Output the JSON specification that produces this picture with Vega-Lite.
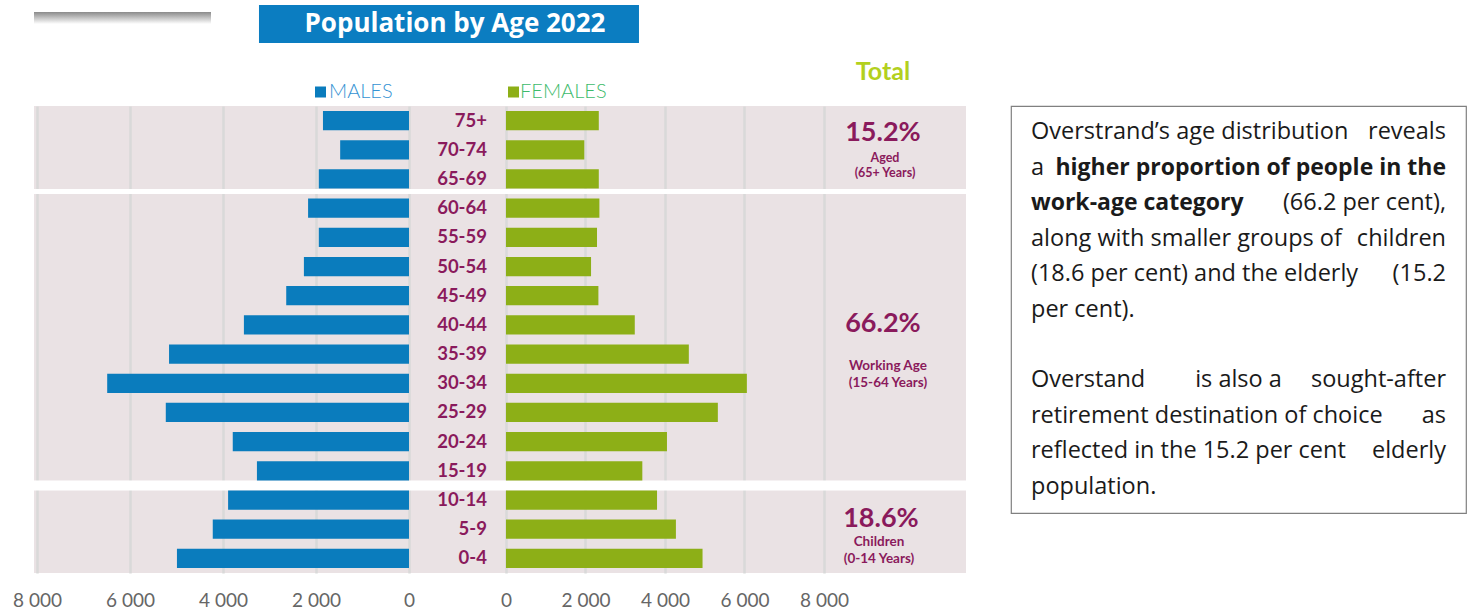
{
  "$schema": "https://vega.github.io/schema/vega-lite/v6.json",
  "padding": {"left": 12, "top": 0, "right": 0, "bottom": 0},
  "config": {"view": {"stroke": null}, "font": "Lato"},
  "datasets": {
    "pop": [
      {"age": "75+", "males": 1850, "females": 2335},
      {"age": "70-74", "males": 1480, "females": 1970},
      {"age": "65-69", "males": 1940, "females": 2335},
      {"age": "60-64", "males": 2170, "females": 2350},
      {"age": "55-59", "males": 1940, "females": 2290},
      {"age": "50-54", "males": 2260, "females": 2140},
      {"age": "45-49", "males": 2640, "females": 2325},
      {"age": "40-44", "males": 3550, "females": 3240},
      {"age": "35-39", "males": 5160, "females": 4600},
      {"age": "30-34", "males": 6490, "females": 6060},
      {"age": "25-29", "males": 5230, "females": 5330},
      {"age": "20-24", "males": 3790, "females": 4050},
      {"age": "15-19", "males": 3270, "females": 3430},
      {"age": "10-14", "males": 3890, "females": 3800},
      {"age": "5-9", "males": 4220, "females": 4275},
      {"age": "0-4", "males": 4990, "females": 4945}
    ],
    "totals": [
      {"group": "Aged", "pct": "15.2%", "desc": "Aged\n(65+ Years)"},
      {"group": "Working Age", "pct": "66.2%", "desc": "Working Age\n(15-64 Years)"},
      {"group": "Children", "pct": "18.6%", "desc": "Children\n(0-14 Years)"}
    ],
    "noteL": [
      {"line": 1, "text": "Overstrand’s age distribution"},
      {"line": 2, "text": "a"},
      {"line": 4, "text": "along with smaller groups of"},
      {"line": 5, "text": "(18.6 per cent) and the elderly"},
      {"line": 6, "text": "per cent)."},
      {"line": 8, "text": "Overstand"},
      {"line": 9, "text": "retirement destination of choice"},
      {"line": 10, "text": "reflected in the 15.2 per cent"},
      {"line": 11, "text": "population."}
    ],
    "noteC": [
      {"line": 8, "text": "is also a"}
    ],
    "noteR": [
      {"line": 1, "text": "reveals"},
      {"line": 3, "text": "(66.2 per cent),"},
      {"line": 4, "text": "children"},
      {"line": 5, "text": "(15.2"},
      {"line": 8, "text": "sought-after"},
      {"line": 9, "text": "as"},
      {"line": 10, "text": "elderly"}
    ],
    "noteBL": [{"line": 3, "text": "work-age category"}],
    "noteBR": [{"line": 2, "text": "higher proportion of people in the"}]
  },
  "spacing": 0,
  "bounds": "flush",
  "resolve": {"scale": {"x": "independent", "y": "independent"}},
  "vconcat": [
    {
      "width": 932,
      "height": 106,
      "data": {"values": [{}]},
      "layer": [
        {
          "mark": {"type": "rect", "color": {"gradient": "linear", "x1": 0, "y1": 0, "x2": 0, "y2": 1, "stops": [{"offset": 0, "color": "#8a8a8a"}, {"offset": 1, "color": "#ffffff"}]}},
          "encoding": {
            "x": {"datum": -11874, "type": "quantitative", "scale": {"domain": [-11874, 11573], "nice": false, "zero": false}, "axis": null},
            "x2": {"datum": -7421},
            "y": {"datum": 12, "type": "quantitative", "scale": {"domain": [0, 106], "reverse": true, "nice": false, "zero": false}, "axis": null},
            "y2": {"datum": 24}
          }
        },
        {
          "mark": {"type": "rect", "color": "#0B7DC1"},
          "encoding": {
            "x": {"datum": -6214, "type": "quantitative", "scale": {"domain": [-11874, 11573], "nice": false, "zero": false}, "axis": null},
            "x2": {"datum": 3346},
            "y": {"datum": 5, "type": "quantitative", "scale": {"domain": [0, 106], "reverse": true, "nice": false, "zero": false}, "axis": null},
            "y2": {"datum": 43}
          }
        },
        {
          "mark": {"type": "text", "text": "Population by Age 2022", "color": "white", "font": "Open Sans", "fontSize": 26, "fontWeight": "bold", "align": "center", "baseline": "middle"},
          "encoding": {
            "x": {"datum": -1283, "type": "quantitative", "scale": {"domain": [-11874, 11573], "nice": false, "zero": false}, "axis": null},
            "y": {"datum": 24, "type": "quantitative", "scale": {"domain": [0, 106], "reverse": true, "nice": false, "zero": false}, "axis": null}
          }
        },
        {
          "mark": {"type": "text", "text": "Total", "color": "#B3D01E", "fontSize": 25, "fontWeight": "bold", "align": "center", "baseline": "middle"},
          "encoding": {
            "x": {"datum": 9484, "type": "quantitative", "scale": {"domain": [-11874, 11573], "nice": false, "zero": false}, "axis": null},
            "y": {"datum": 72, "type": "quantitative", "scale": {"domain": [0, 106], "reverse": true, "nice": false, "zero": false}, "axis": null}
          }
        },
        {
          "mark": {"type": "point", "shape": "square", "filled": true, "size": 121, "color": "#0A7CBD", "opacity": 1},
          "encoding": {
            "x": {"datum": -4667, "type": "quantitative", "scale": {"domain": [-11874, 11573], "nice": false, "zero": false}, "axis": null},
            "y": {"datum": 92, "type": "quantitative", "scale": {"domain": [0, 106], "reverse": true, "nice": false, "zero": false}, "axis": null}
          }
        },
        {
          "mark": {"type": "point", "shape": "square", "filled": true, "size": 121, "color": "#8DAF17", "opacity": 1},
          "encoding": {
            "x": {"datum": 189, "type": "quantitative", "scale": {"domain": [-11874, 11573], "nice": false, "zero": false}, "axis": null},
            "y": {"datum": 92, "type": "quantitative", "scale": {"domain": [0, 106], "reverse": true, "nice": false, "zero": false}, "axis": null}
          }
        },
        {
          "mark": {"type": "text", "text": "MALES", "color": "#3593D3", "fontSize": 20, "fontWeight": 300, "align": "left", "baseline": "middle"},
          "encoding": {
            "x": {"datum": -4453, "type": "quantitative", "scale": {"domain": [-11874, 11573], "nice": false, "zero": false}, "axis": null},
            "y": {"datum": 92, "type": "quantitative", "scale": {"domain": [0, 106], "reverse": true, "nice": false, "zero": false}, "axis": null}
          }
        },
        {
          "mark": {"type": "text", "text": "FEMALES", "color": "#3DBB6B", "fontSize": 20, "fontWeight": 300, "align": "left", "baseline": "middle"},
          "encoding": {
            "x": {"datum": 353, "type": "quantitative", "scale": {"domain": [-11874, 11573], "nice": false, "zero": false}, "axis": null},
            "y": {"datum": 92, "type": "quantitative", "scale": {"domain": [0, 106], "reverse": true, "nice": false, "zero": false}, "axis": null}
          }
        }
      ]
    },
    {
      "spacing": 45,
      "bounds": "flush",
      "hconcat": [
        {
          "width": 932,
          "height": 467,
          "view": {"fill": "#EAE2E4", "stroke": null},
          "resolve": {"scale": {"x": "independent"}, "axis": {"x": "independent"}},
          "layer": [
            {
              "data": {"values": [{}]},
              "mark": {"type": "rule", "color": "white", "strokeWidth": 5},
              "encoding": {
                "y": {"datum": "65-69", "type": "nominal", "bandPosition": 0.93, "scale": {"domain": ["75+", "70-74", "65-69", "60-64", "55-59", "50-54", "45-49", "40-44", "35-39", "30-34", "25-29", "20-24", "15-19", "10-14", "5-9", "0-4"], "paddingInner": 0, "paddingOuter": 0}, "axis": null}
              }
            },
            {
              "data": {"values": [{}]},
              "mark": {"type": "rule", "color": "white", "strokeWidth": 10},
              "encoding": {
                "y": {"datum": "10-14", "type": "nominal", "bandPosition": 0, "axis": null}
              }
            },
            {
              "data": {"name": "pop"},
              "mark": {"type": "bar", "color": "#0A7CBD", "height": {"band": 0.66}},
              "encoding": {
                "y": {"field": "age", "type": "nominal", "axis": null},
                "x": {
                  "field": "males", "type": "quantitative",
                  "scale": {"domain": [-11978, 8064], "reverse": true, "nice": false, "zero": false},
                  "axis": {"orient": "bottom", "values": [0, 2000, 4000, 6000, 8000], "grid": true, "gridColor": "#D9D9D9", "gridWidth": 2.5, "domain": false, "ticks": false, "labelFontSize": 19, "labelColor": "#666666", "labelPadding": 18, "title": null, "labelExpr": "replace(format(datum.value, ','), ',', ' ')"}
                }
              }
            },
            {
              "data": {"name": "pop"},
              "mark": {"type": "bar", "color": "#8DAF17", "height": {"band": 0.66}},
              "encoding": {
                "y": {"field": "age", "type": "nominal", "axis": null},
                "x": {
                  "field": "females", "type": "quantitative",
                  "scale": {"domain": [-11874, 11573], "nice": false, "zero": false},
                  "axis": {"orient": "bottom", "values": [0, 2000, 4000, 6000, 8000], "grid": true, "gridColor": "#D9D9D9", "gridWidth": 2.5, "domain": false, "ticks": false, "labelFontSize": 19, "labelColor": "#666666", "labelPadding": 18, "title": null, "labelExpr": "replace(format(datum.value, ','), ',', ' ')"}
                }
              }
            },
            {
              "data": {"name": "pop"},
              "mark": {"type": "text", "align": "right", "baseline": "middle", "fontSize": 18.5, "fontWeight": "bold", "color": "#8A1A5C"},
              "encoding": {
                "y": {"field": "age", "type": "nominal", "axis": null},
                "x": {"datum": -478, "type": "quantitative", "scale": {"domain": [-11874, 11573], "nice": false, "zero": false}, "axis": null},
                "text": {"field": "age"}
              }
            },
            {
              "data": {"name": "totals"},
              "transform": [{"filter": "datum.group === 'Aged'"}],
              "mark": {"type": "text", "align": "center", "baseline": "middle", "fontSize": 27, "fontWeight": "bold", "color": "#8A1A5C", "dy": 12},
              "encoding": {
                "y": {"datum": "75+", "type": "nominal", "axis": null},
                "x": {"datum": 9484, "type": "quantitative", "scale": {"domain": [-11874, 11573], "nice": false, "zero": false}, "axis": null},
                "text": {"field": "pct"}
              }
            },
            {
              "data": {"name": "totals"},
              "transform": [{"filter": "datum.group === 'Working Age'"}],
              "mark": {"type": "text", "align": "center", "baseline": "middle", "fontSize": 27, "fontWeight": "bold", "color": "#8A1A5C", "dy": -1},
              "encoding": {
                "y": {"datum": "40-44", "type": "nominal", "axis": null},
                "x": {"datum": 9484, "type": "quantitative", "scale": {"domain": [-11874, 11573], "nice": false, "zero": false}, "axis": null},
                "text": {"field": "pct"}
              }
            },
            {
              "data": {"name": "totals"},
              "transform": [{"filter": "datum.group === 'Children'"}],
              "mark": {"type": "text", "align": "center", "baseline": "middle", "fontSize": 27, "fontWeight": "bold", "color": "#8A1A5C", "dy": -10},
              "encoding": {
                "y": {"datum": "5-9", "type": "nominal", "axis": null},
                "x": {"datum": 9434, "type": "quantitative", "scale": {"domain": [-11874, 11573], "nice": false, "zero": false}, "axis": null},
                "text": {"field": "pct"}
              }
            },
            {
              "data": {"name": "totals"},
              "transform": [{"filter": "datum.group === 'Aged'"}],
              "mark": {"type": "text", "align": "center", "baseline": "middle", "fontSize": 12.5, "fontWeight": "bold", "color": "#8A1A5C", "lineBreak": "\n", "lineHeight": 15, "dy": -21},
              "encoding": {
                "y": {"datum": "65-69", "type": "nominal", "axis": null},
                "x": {"datum": 9535, "type": "quantitative", "scale": {"domain": [-11874, 11573], "nice": false, "zero": false}, "axis": null},
                "text": {"field": "desc"}
              }
            },
            {
              "data": {"name": "totals"},
              "transform": [{"filter": "datum.group === 'Working Age'"}],
              "mark": {"type": "text", "align": "center", "baseline": "middle", "fontSize": 13.5, "fontWeight": "bold", "color": "#8A1A5C", "lineBreak": "\n", "lineHeight": 17, "dy": -17},
              "encoding": {
                "y": {"datum": "30-34", "type": "nominal", "axis": null},
                "x": {"datum": 9610, "type": "quantitative", "scale": {"domain": [-11874, 11573], "nice": false, "zero": false}, "axis": null},
                "text": {"field": "desc"}
              }
            },
            {
              "data": {"name": "totals"},
              "transform": [{"filter": "datum.group === 'Children'"}],
              "mark": {"type": "text", "align": "center", "baseline": "middle", "fontSize": 13.5, "fontWeight": "bold", "color": "#8A1A5C", "lineBreak": "\n", "lineHeight": 17, "dy": -16},
              "encoding": {
                "y": {"datum": "0-4", "type": "nominal", "axis": null},
                "x": {"datum": 9384, "type": "quantitative", "scale": {"domain": [-11874, 11573], "nice": false, "zero": false}, "axis": null},
                "text": {"field": "desc"}
              }
            }
          ]
        },
        {
          "width": 455,
          "height": 407,
          "view": {"stroke": "#808080", "strokeWidth": 1.2, "fill": "white"},
          "layer": [
            {
              "data": {"name": "noteL"},
              "mark": {"type": "text", "align": "left", "baseline": "middle", "font": "Open Sans", "fontSize": 23.5, "color": "#1a1a1a"},
              "encoding": {
                "x": {"datum": "left", "type": "nominal", "scale": {"type": "point", "domain": ["left", "center", "right"], "padding": 0.0964}, "axis": null},
                "y": {"field": "line", "type": "ordinal", "scale": {"type": "point", "domain": [1, 2, 3, 4, 5, 6, 7, 8, 9, 10, 11], "padding": 0.74}, "axis": null},
                "text": {"field": "text"}
              }
            },
            {
              "data": {"name": "noteC"},
              "mark": {"type": "text", "align": "center", "baseline": "middle", "font": "Open Sans", "fontSize": 23.5, "color": "#1a1a1a"},
              "encoding": {
                "x": {"datum": "center", "type": "nominal", "axis": null},
                "y": {"field": "line", "type": "ordinal", "axis": null},
                "text": {"field": "text"}
              }
            },
            {
              "data": {"name": "noteR"},
              "mark": {"type": "text", "align": "right", "baseline": "middle", "font": "Open Sans", "fontSize": 23.5, "color": "#1a1a1a"},
              "encoding": {
                "x": {"datum": "right", "type": "nominal", "axis": null},
                "y": {"field": "line", "type": "ordinal", "axis": null},
                "text": {"field": "text"}
              }
            },
            {
              "data": {"name": "noteBL"},
              "mark": {"type": "text", "align": "left", "baseline": "middle", "font": "Open Sans", "fontSize": 23, "fontWeight": "bold", "color": "#1a1a1a"},
              "encoding": {
                "x": {"datum": "left", "type": "nominal", "axis": null},
                "y": {"field": "line", "type": "ordinal", "axis": null},
                "text": {"field": "text"}
              }
            },
            {
              "data": {"name": "noteBR"},
              "mark": {"type": "text", "align": "right", "baseline": "middle", "font": "Open Sans", "fontSize": 23, "fontWeight": "bold", "color": "#1a1a1a"},
              "encoding": {
                "x": {"datum": "right", "type": "nominal", "axis": null},
                "y": {"field": "line", "type": "ordinal", "axis": null},
                "text": {"field": "text"}
              }
            }
          ]
        }
      ]
    }
  ]
}
